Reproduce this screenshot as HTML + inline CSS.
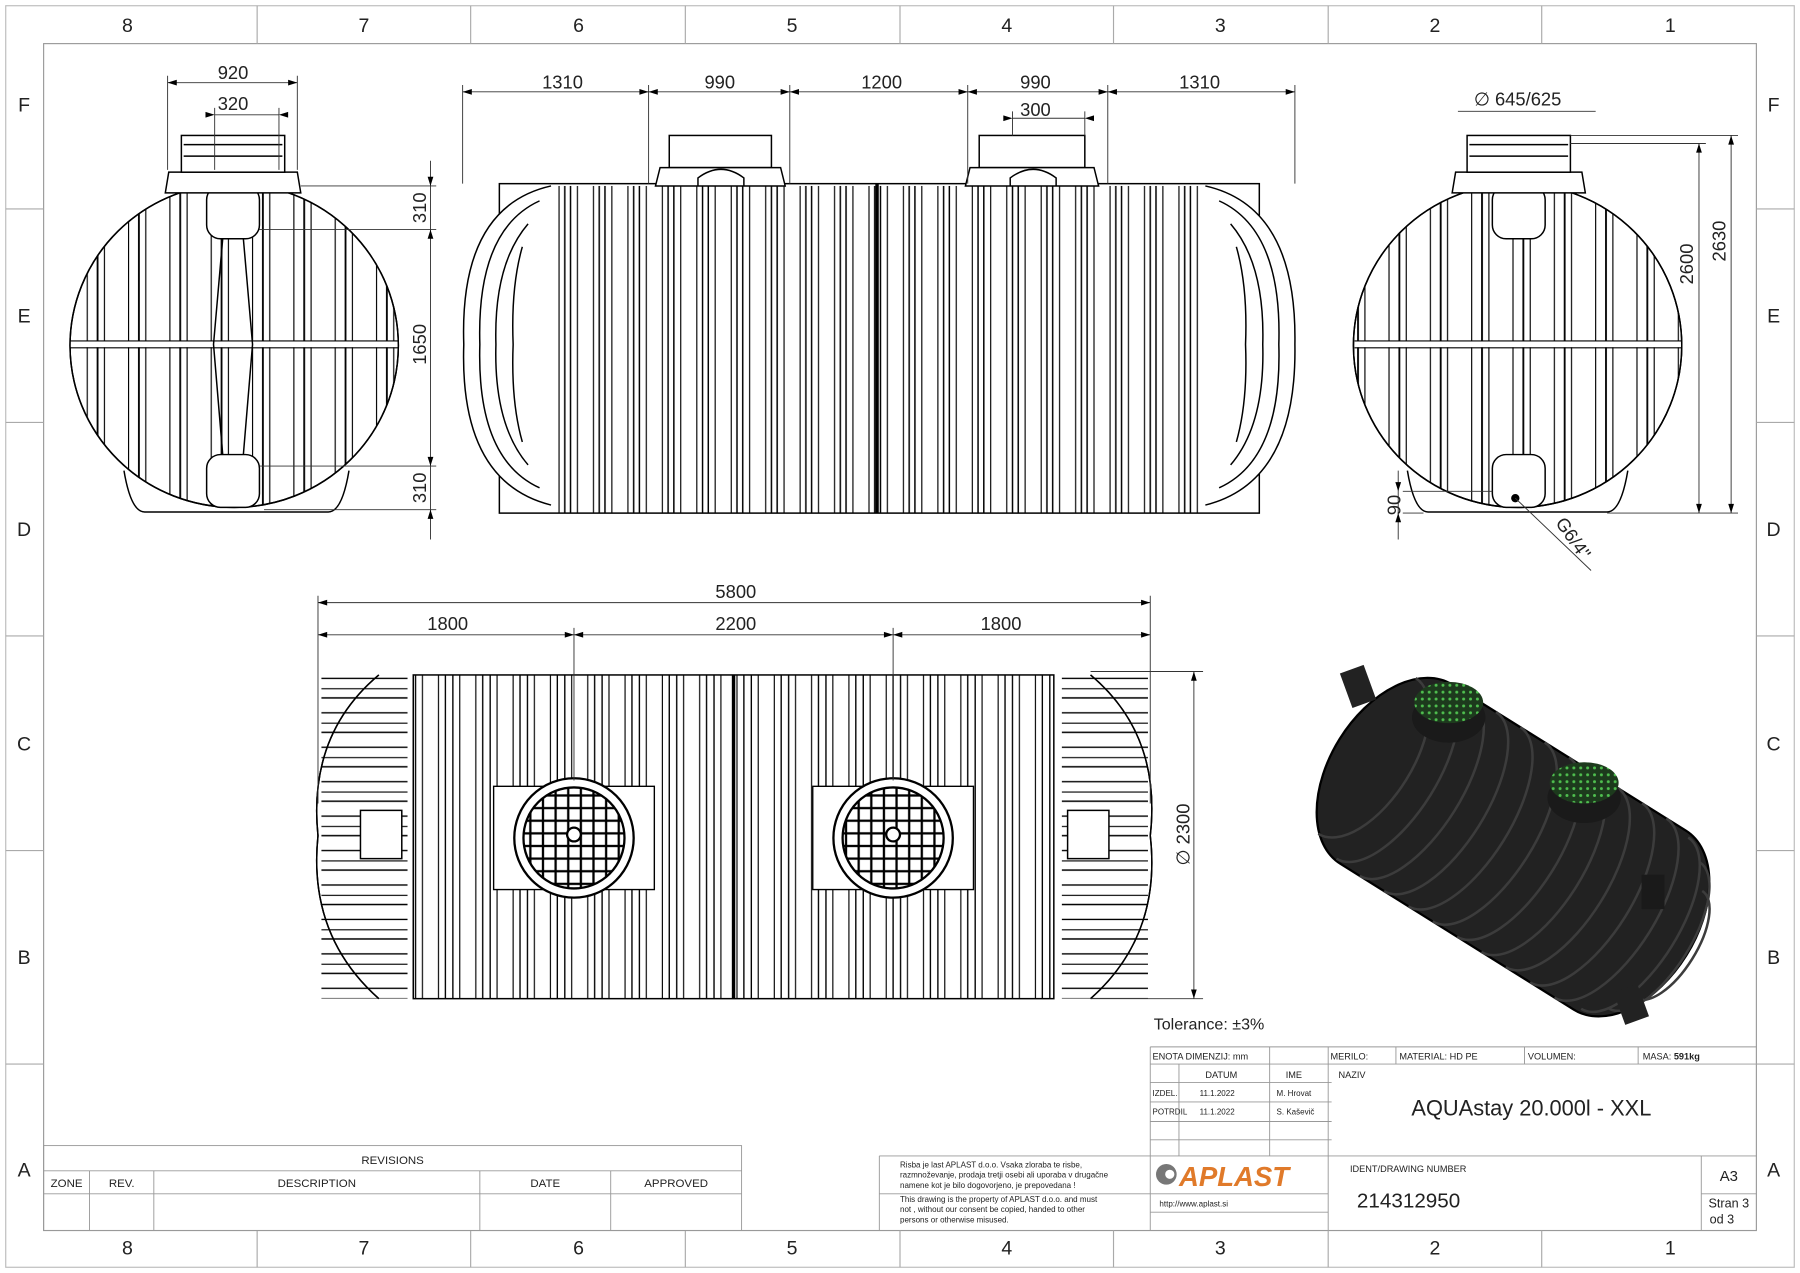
<!DOCTYPE html>
<html><head><meta charset="utf-8"><style>
html,body{margin:0;padding:0;background:#fff}
svg{display:block}
text{font-family:"Liberation Sans",sans-serif;fill:#222}
</style></head><body>
<svg width="1800" height="1273" viewBox="0 0 1568 1109" preserveAspectRatio="none" xmlns="http://www.w3.org/2000/svg">
<defs>
<pattern id="ribV" x="435" y="0" width="30" height="20" patternUnits="userSpaceOnUse">
<line x1="2" y1="0" x2="2" y2="20" stroke="#000" stroke-width="1.3"/><line x1="8" y1="0" x2="8" y2="20" stroke="#000" stroke-width="1"/><line x1="22" y1="0" x2="22" y2="20" stroke="#000" stroke-width="1"/><line x1="27" y1="0" x2="27" y2="20" stroke="#000" stroke-width="1.3"/>
</pattern>
<pattern id="ribE" x="60" y="0" width="36" height="20" patternUnits="userSpaceOnUse">
<line x1="3" y1="0" x2="3" y2="20" stroke="#000" stroke-width="1.6"/><line x1="9" y1="0" x2="9" y2="20" stroke="#000" stroke-width="1"/><line x1="30" y1="0" x2="30" y2="20" stroke="#000" stroke-width="1"/>
</pattern>
<pattern id="ribE2" x="1180" y="0" width="36" height="20" patternUnits="userSpaceOnUse">
<line x1="3" y1="0" x2="3" y2="20" stroke="#000" stroke-width="1.6"/><line x1="9" y1="0" x2="9" y2="20" stroke="#000" stroke-width="1"/><line x1="30" y1="0" x2="30" y2="20" stroke="#000" stroke-width="1"/>
</pattern>
<pattern id="ribT" x="360" y="0" width="32.5" height="20" patternUnits="userSpaceOnUse">
<line x1="2" y1="0" x2="2" y2="20" stroke="#000" stroke-width="1.2"/><line x1="8" y1="0" x2="8" y2="20" stroke="#000" stroke-width="1"/><line x1="22" y1="0" x2="22" y2="20" stroke="#000" stroke-width="1"/><line x1="28" y1="0" x2="28" y2="20" stroke="#000" stroke-width="1.2"/>
</pattern>
<pattern id="finH" x="0" y="588" width="20" height="30" patternUnits="userSpaceOnUse">
<line x1="0" y1="3" x2="20" y2="3" stroke="#000" stroke-width="1.2"/><line x1="0" y1="12" x2="20" y2="12" stroke="#000" stroke-width="1"/><line x1="0" y1="20" x2="20" y2="20" stroke="#000" stroke-width="1.2"/>
</pattern>
<pattern id="grid" x="0" y="0" width="11" height="11" patternUnits="userSpaceOnUse">
<rect width="11" height="11" fill="#fff" stroke="#000" stroke-width="2"/>
</pattern>
<pattern id="dots" x="0" y="0" width="6" height="6" patternUnits="userSpaceOnUse">
<rect width="6" height="6" fill="#1d3a1d"/><circle cx="3" cy="3" r="1.3" fill="#4fbf4f"/>
</pattern>
<clipPath id="cL"><ellipse cx="218" cy="301" rx="143" ry="141"/></clipPath>
<clipPath id="cR"><ellipse cx="1322" cy="301" rx="143" ry="141"/></clipPath>
</defs>

<!-- frame -->
<rect x="5" y="5" width="1558" height="1099" fill="none" stroke="#bbb" stroke-width="1"/>
<rect x="38" y="38" width="1492" height="1034" fill="none" stroke="#999" stroke-width="1"/>
<g stroke="#aaa" stroke-width="1">
<path d="M224 5V38M410 5V38M597 5V38M784 5V38M970 5V38M1157 5V38M1343 5V38"/>
<path d="M224 1072V1104M410 1072V1104M597 1072V1104M784 1072V1104M970 1072V1104M1157 1072V1104M1343 1072V1104"/>
<path d="M5 182H38M5 368H38M5 554H38M5 741H38M5 927H38"/>
<path d="M1530 182H1563M1530 368H1563M1530 554H1563M1530 741H1563M1530 927H1563"/>
</g>
<g font-size="17" text-anchor="middle">
<text x="111" y="28">8</text><text x="317" y="28">7</text><text x="504" y="28">6</text><text x="690" y="28">5</text><text x="877" y="28">4</text><text x="1063" y="28">3</text><text x="1250" y="28">2</text><text x="1455" y="28">1</text>
<text x="111" y="1093">8</text><text x="317" y="1093">7</text><text x="504" y="1093">6</text><text x="690" y="1093">5</text><text x="877" y="1093">4</text><text x="1063" y="1093">3</text><text x="1250" y="1093">2</text><text x="1455" y="1093">1</text>
<text x="21" y="97">F</text><text x="21" y="281">E</text><text x="21" y="467">D</text><text x="21" y="654">C</text><text x="21" y="840">B</text><text x="21" y="1025">A</text>
<text x="1545" y="97">F</text><text x="1545" y="281">E</text><text x="1545" y="467">D</text><text x="1545" y="654">C</text><text x="1545" y="840">B</text><text x="1545" y="1025">A</text>
</g>

<!-- LEFT END VIEW -->
<g stroke="#000" fill="none" stroke-width="1.3" transform="translate(-14,0)">
<path d="M122 410 Q128 446 140 446 H300 Q312 446 318 410" fill="#fff"/>
<ellipse cx="218" cy="301" rx="143" ry="141" fill="#fff"/>
<rect x="60" y="158" width="320" height="290" fill="url(#ribE)" clip-path="url(#cL)" stroke="none"/>
<path d="M60 300H380" stroke="#fff" stroke-width="5" clip-path="url(#cL)"/>
<path d="M60 297H380M60 303H380" clip-path="url(#cL)" stroke-width="1"/>
<ellipse cx="218" cy="301" rx="143" ry="141"/>
<rect x="194" y="162" width="46" height="46" rx="12" fill="#fff"/>
<rect x="194" y="396" width="46" height="46" rx="12" fill="#fff"/>
<path d="M208 208 L200 300 L208 396 M226 208 L234 300 L226 396"/>
<path d="M161 150 H273 L276 168 H158 Z" fill="#fff"/>
<rect x="172" y="118" width="90" height="32" fill="#fff"/>
<path d="M174 126H260M174 136H260"/>
</g>
<g stroke="#333" stroke-width="0.8" fill="none">
<path d="M146 72H259M146 66V148M259 66V148M187 100H243M187 94V148M243 94V148"/>
<path d="M375 140V470M262 162H380M226 200H380M226 406H380M230 444H380"/>
</g>
<g fill="#000"><path d="M146 72l8 -2.5v5zM259 72l-8 -2.5v5zM187 100l-8 -2.5v5zM243 100l8 -2.5v5z"/>
<path d="M375 162l-2.5 -8h5zM375 200l-2.5 8h5zM375 406l-2.5 -8h5zM375 444l-2.5 8h5z"/></g>
<g font-size="16" text-anchor="middle"><text x="203" y="69">920</text><text x="203" y="96">320</text>
<text transform="translate(371,181) rotate(-90)">310</text><text transform="translate(371,300) rotate(-90)">1650</text><text transform="translate(371,425) rotate(-90)">310</text></g>

<!-- SIDE VIEW -->
<g stroke="#000" fill="none" stroke-width="1.3">
<rect x="435" y="160" width="662" height="287" fill="#fff"/>
<path d="M480 162 Q400 180 404 300 Q400 420 480 440" fill="#fff"/>
<path d="M1050 162 Q1130 180 1128 300 Q1130 420 1050 440" fill="#fff"/>
<rect x="486" y="162" width="560" height="285" fill="url(#ribV)" stroke="none"/>
<path d="M470 175 Q415 200 418 300 Q415 400 470 425M460 195 Q430 230 432 300 Q430 370 460 405M455 215 Q445 250 447 300 Q445 350 455 385"/>
<path d="M1062 175 Q1117 200 1114 300 Q1117 400 1062 425M1072 195 Q1102 230 1100 300 Q1102 370 1072 405M1077 215 Q1087 250 1085 300 Q1087 350 1077 385"/>
<path d="M764 160V447" stroke-width="3"/>
<rect x="583" y="118" width="89" height="28" fill="#fff"/><path d="M575 146H680L684 162H571Z" fill="#fff"/>
<rect x="853" y="118" width="92" height="28" fill="#fff"/><path d="M845 146H953L957 162H841Z" fill="#fff"/>
<path d="M608 162V155Q628 140 648 155V162M880 162V155Q900 140 920 155V162" />
</g>
<g stroke="#333" stroke-width="0.8" fill="none">
<path d="M403 80H1128M403 74V160M565 74V160M688 74V160M843 74V160M965 74V160M1128 74V160M882 103H945M882 97V118M945 97V118"/>
</g>
<g fill="#000"><path d="M403 80l8-2.5v5zM565 80l-8-2.5v5zM565 80l8-2.5v5zM688 80l-8-2.5v5zM688 80l8-2.5v5zM843 80l-8-2.5v5zM843 80l8-2.5v5zM965 80l-8-2.5v5zM965 80l8-2.5v5zM1128 80l-8-2.5v5zM882 103l-8-2.5v5zM945 103l8-2.5v5z"/></g>
<g font-size="16" text-anchor="middle"><text x="490" y="77">1310</text><text x="627" y="77">990</text><text x="768" y="77">1200</text><text x="902" y="77">990</text><text x="1045" y="77">1310</text><text x="902" y="101">300</text></g>

<!-- RIGHT END VIEW -->
<g stroke="#000" fill="none" stroke-width="1.3">
<path d="M1226 410 Q1232 446 1244 446 H1400 Q1412 446 1418 410" fill="#fff"/>
<ellipse cx="1322" cy="301" rx="143" ry="141" fill="#fff"/>
<rect x="1180" y="158" width="290" height="290" fill="url(#ribE2)" clip-path="url(#cR)" stroke="none"/>
<path d="M1180 300H1470" stroke="#fff" stroke-width="5" clip-path="url(#cR)"/>
<path d="M1180 297H1470M1180 303H1470" clip-path="url(#cR)" stroke-width="1"/>
<ellipse cx="1322" cy="301" rx="143" ry="141"/>
<rect x="1300" y="162" width="46" height="46" rx="12" fill="#fff"/>
<rect x="1300" y="396" width="46" height="46" rx="12" fill="#fff"/>
<path d="M1268 150 H1378 L1381 168 H1265 Z" fill="#fff"/>
<rect x="1278" y="118" width="90" height="32" fill="#fff"/>
<path d="M1280 126H1366M1280 136H1366"/>
<circle cx="1320" cy="434" r="3" fill="#000"/>
</g>
<g stroke="#333" stroke-width="0.8" fill="none">
<path d="M1270 97H1390M1368 125H1486M1368 118H1514M1400 447H1514M1480 125V447M1508 118V447M1222 428H1300M1222 447H1240M1218 410V470M1320 434L1386 497"/>
</g>
<g fill="#000"><path d="M1480 125l-2.5 8h5zM1480 447l-2.5-8h5zM1508 118l-2.5 8h5zM1508 447l-2.5-8h5zM1218 428l-2.5-8h5zM1218 447l-2.5 8h5z"/></g>
<g font-size="16" text-anchor="middle"><text x="1322" y="92">∅ 645/625</text>
<text transform="translate(1475,230) rotate(-90)">2600</text><text transform="translate(1503,210) rotate(-90)">2630</text>
<text transform="translate(1220,440) rotate(-90)">90</text><text transform="translate(1366,472) rotate(55)">G6/4"</text></g>

<!-- TOP VIEW -->
<g stroke="#000" fill="none" stroke-width="1.3">
<path d="M330 588 Q268 640 277 728 Q268 815 330 870" fill="#fff"/>
<path d="M950 588 Q1012 640 1002 728 Q1012 815 950 870" fill="#fff"/>
<rect x="280" y="588" width="75" height="282" fill="url(#finH)" stroke="none"/>
<rect x="925" y="588" width="75" height="282" fill="url(#finH)" stroke="none"/>
<path d="M330 588 Q268 640 277 728 Q268 815 330 870" stroke-width="1.3"/>
<path d="M950 588 Q1012 640 1002 728 Q1012 815 950 870"/>
<rect x="360" y="588" width="558" height="282" fill="url(#ribT)"/>
<path d="M639 588V870" stroke-width="3"/>
<path d="M314 706h36v42h-36zM930 706h36v42h-36z" fill="#fff"/>
<path d="M430 685h140v90h-140zM708 685h140v90h-140z" stroke-width="1.2" fill="#fff"/>
<circle cx="500" cy="730" r="52" fill="#fff" stroke-width="2"/>
<circle cx="500" cy="730" r="44" fill="url(#grid)" stroke-width="2"/>
<circle cx="778" cy="730" r="52" fill="#fff" stroke-width="2"/>
<circle cx="778" cy="730" r="44" fill="url(#grid)" stroke-width="2"/>
<circle cx="500" cy="727" r="6" fill="#fff" stroke-width="2"/><circle cx="778" cy="727" r="6" fill="#fff" stroke-width="2"/>
</g>
<g stroke="#333" stroke-width="0.8" fill="none">
<path d="M277 525H1002M277 553H1002M277 519V700M1002 519V700M500 547V680M778 547V680M950 585H1048M950 870H1048M1040 585V870"/>
</g>
<g fill="#000"><path d="M277 525l8-2.5v5zM1002 525l-8-2.5v5zM277 553l8-2.5v5zM500 553l-8-2.5v5zM500 553l8-2.5v5zM778 553l-8-2.5v5zM778 553l8-2.5v5zM1002 553l-8-2.5v5zM1040 585l-2.5 8h5zM1040 870l-2.5-8h5z"/></g>
<g font-size="16" text-anchor="middle"><text x="641" y="521">5800</text><text x="390" y="549">1800</text><text x="641" y="549">2200</text><text x="872" y="549">1800</text>
<text transform="translate(1036,727) rotate(-90)">∅ 2300</text></g>

<!-- ISO -->
<g transform="translate(1318,738) rotate(32)">
<path d="M-120 -92 H120 A58 92 0 0 1 120 92 H-120 A58 92 0 0 1 -120 -92Z" fill="#222" stroke="#000" stroke-width="2"/>
<g stroke="#3c3c3c" stroke-width="2.2" fill="none">
<path d="M-150 -80a40 80 0 0 1 0 160M-125 -90a40 90 0 0 1 0 180M-100 -92a40 92 0 0 1 0 184M-75 -92a40 92 0 0 1 0 184M-50 -92a40 92 0 0 1 0 184M-25 -92a40 92 0 0 1 0 184M0 -92a40 92 0 0 1 0 184M25 -92a40 92 0 0 1 0 184M50 -92a40 92 0 0 1 0 184M75 -92a40 92 0 0 1 0 184M100 -92a40 92 0 0 1 0 184M125 -88a38 88 0 0 1 0 176M145 -75a32 75 0 0 1 0 150M160 -55a24 55 0 0 1 0 110"/>
</g>
</g>
<rect x="1172" y="582" width="22" height="32" fill="#222" transform="rotate(-20 1183 598)"/>
<rect x="1430" y="762" width="20" height="30" fill="#1a1a1a"/>
<rect x="1410" y="860" width="22" height="30" fill="#222" transform="rotate(-20 1421 875)"/>
<ellipse cx="1262" cy="625" rx="32" ry="22" fill="#1a1a1a"/>
<ellipse cx="1262" cy="612" rx="30" ry="18" fill="url(#dots)"/>
<ellipse cx="1380" cy="695" rx="32" ry="22" fill="#1a1a1a"/>
<ellipse cx="1380" cy="682" rx="30" ry="18" fill="url(#dots)"/>

<!-- tolerance / title block -->
<text x="1005" y="897" font-size="14">Tolerance: ±3%</text>
<g stroke="#999" stroke-width="0.8" fill="none">
<path d="M1002 912H1530M1002 927H1530M1002 943H1160M1002 960H1160M1002 977H1160M1002 993H1160M1002 1007H1530M766 1007H1002M766 1040H1157M1002 1056H1157M1482 1040H1530"/>
<path d="M1002 912V1072M1027 927V1007M1106 912V1007M1157 912V1072M1216 912V927M1328 912V927M1427 912V927M1482 1007V1072M766 1007V1072"/>
<rect x="38" y="998" width="608" height="74"/>
<path d="M38 1020H646M38 1040H646M78 1020V1072M134 1020V1072M418 1020V1072M532 1020V1072"/>
</g>
<g font-size="8" fill="#333">
<text x="1004" y="923">ENOTA DIMENZIJ:  mm</text><text x="1159" y="923">MERILO:</text><text x="1219" y="923">MATERIAL:  HD PE</text><text x="1331" y="923">VOLUMEN:</text><text x="1431" y="923">MASA:  <tspan font-weight="bold">591kg</tspan></text>
<text x="1050" y="939">DATUM</text><text x="1120" y="939">IME</text><text x="1166" y="939">NAZIV</text>
<text x="1004" y="955" font-size="7">IZDEL.</text><text x="1045" y="955" font-size="7">11.1.2022</text><text x="1112" y="955" font-size="7">M. Hrovat</text>
<text x="1004" y="971" font-size="7">POTRDIL</text><text x="1045" y="971" font-size="7">11.1.2022</text><text x="1112" y="971" font-size="7">S. Kaševič</text>
<text x="1176" y="1021">IDENT/DRAWING NUMBER</text>
<text x="1010" y="1051" font-size="7" fill="#3355aa">http://www.aplast.si</text>
<text x="784" y="1017" font-size="7">Risba je last APLAST d.o.o. Vsaka zloraba te risbe,</text>
<text x="784" y="1026" font-size="7">razmnoževanje, prodaja tretji osebi ali uporaba v drugačne</text>
<text x="784" y="1035" font-size="7">namene kot je bilo dogovorjeno, je prepovedana !</text>
<text x="784" y="1047" font-size="7">This drawing is the property of APLAST d.o.o. and must</text>
<text x="784" y="1056" font-size="7">not , without our consent be copied, handed to other</text>
<text x="784" y="1065" font-size="7">persons or otherwise misused.</text>
<text x="342" y="1014" font-size="10" text-anchor="middle">REVISIONS</text>
<text x="58" y="1034" font-size="10" text-anchor="middle">ZONE</text><text x="106" y="1034" font-size="10" text-anchor="middle">REV.</text><text x="276" y="1034" font-size="10" text-anchor="middle">DESCRIPTION</text><text x="475" y="1034" font-size="10" text-anchor="middle">DATE</text><text x="589" y="1034" font-size="10" text-anchor="middle">APPROVED</text>
</g>
<text x="1334" y="972" font-size="19" text-anchor="middle">AQUAstay 20.000l - XXL</text>
<text x="1182" y="1052" font-size="18">214312950</text>
<text x="1506" y="1029" font-size="13" text-anchor="middle">A3</text>
<text x="1506" y="1052" font-size="11" text-anchor="middle">Stran 3</text><text x="1500" y="1066" font-size="11" text-anchor="middle">od 3</text>
<circle cx="1016" cy="1023" r="9" fill="#777"/><circle cx="1019" cy="1023" r="4" fill="#fff"/>
<text x="1027" y="1033" font-size="24" font-weight="bold" font-style="italic" style="fill:#e07a2a">APLAST</text>
</svg>
</body></html>
